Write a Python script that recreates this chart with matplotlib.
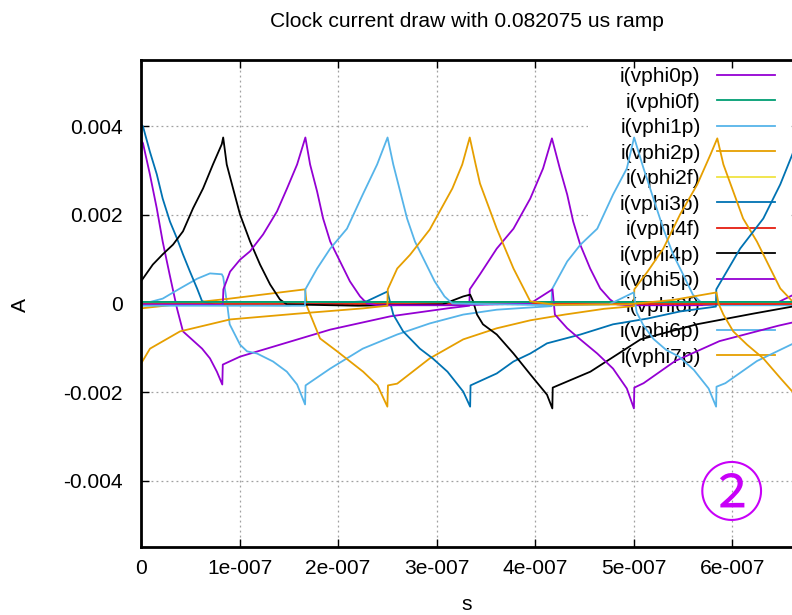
import numpy as np
import matplotlib
matplotlib.use("Agg")
import matplotlib.pyplot as plt
from matplotlib.patches import Rectangle

plt.rcParams['font.family'] = ['Liberation Sans', 'DejaVu Sans']

title = "Clock current draw with 0.082075 us ramp"
x_label = "s"
y_label = "A"
badge = "②"

series_names = ["i(vphi0p)", "i(vphi0f)", "i(vphi1p)", "i(vphi2p)", "i(vphi2f)", "i(vphi3p)",
                "i(vphi4f)", "i(vphi4p)", "i(vphi5p)", "i(vphi6f)", "i(vphi6p)", "i(vphi7p)"]
series_colors = ["#9400d3", "#009e73", "#56b4e9", "#e69f00", "#f0e442", "#0072b2",
                 "#e51e10", "#000000", "#9400d3", "#009e73", "#56b4e9", "#e69f00"]

# time in ns, current in mA
t_vphi0p = [0, 2, 9, 16, 22, 29, 36.5, 42.6, 62, 70, 77, 82.5, 83, 100.5, 141, 192, 253, 311, 333.2,
            333.6, 344, 361, 378, 395, 408, 417, 425, 432.5, 438.6, 445.7, 455.8, 466, 476, 483, 495,
            560, 642, 667]
i_vphi0p = [3.7, 3.62, 2.92, 2.15, 1.40, 0.66, -0.11, -0.63, -1.02, -1.24, -1.54, -1.83, -1.38, -1.2,
            -0.93, -0.59, -0.29, -0.11, -0.05, 0.32, 0.66, 1.24, 1.69, 2.37, 3.05, 3.73, 3.05, 2.46,
            1.85, 1.33, 0.79, 0.34, 0.09, -0.02, -0.04, -0.04, -0.02, 0.25]

t_vphi0f = [0, 667]
i_vphi0f = [0.03, 0.03]

t_vphi1p = [0, 22, 39.6, 57, 70, 82, 83.4, 88, 90, 100.5, 107.6, 117.8, 134, 148, 158.4, 166.5, 167,
            192, 225, 260, 293, 327, 361, 395, 416.6, 417, 432.5, 446, 463, 479, 493, 500.4, 510, 520,
            530, 540, 550, 560, 570.6, 590, 667]
i_vphi1p = [-0.02, 0.11, 0.34, 0.56, 0.68, 0.66, 0.6, -0.11, -0.47, -0.93, -1.08, -1.13, -1.31, -1.54,
            -1.83, -2.28, -1.85, -1.47, -1.02, -0.70, -0.45, -0.25, -0.14, -0.09, -0.06, 0.32, 0.95,
            1.33, 1.69, 2.46, 3.05, 3.75, 3.05, 2.37, 1.69, 1.11, 0.66, 0.20, -0.02, -0.04, -0.04]

t_vphi2p = [0, 90, 166.5, 168.5, 181.7, 199, 225.4, 240, 250, 250.6, 260, 293, 327, 361, 395, 430,
            470, 500.2, 500.6, 514, 530, 547, 564.5, 578, 584.8, 591, 601, 611, 625, 638.6, 648.7,
            661, 667]
i_vphi2p = [-0.11, 0.11, 0.32, -0.07, -0.79, -1.08, -1.54, -1.85, -2.33, -1.85, -1.81, -1.24, -0.81,
            -0.56, -0.38, -0.25, -0.12, -0.06, 0.32, 0.72, 1.24, 2.01, 2.69, 3.37, 3.73, 3.14, 2.53,
            1.92, 1.40, 0.79, 0.34, 0.05, 0.0]

t_vphi2f = [0, 667]
i_vphi2f = [0.01, 0.01]

t_vphi3p = [0, 2, 9, 16, 22, 29.4, 36.5, 42.6, 49.7, 56.9, 62, 75, 150, 229, 250, 256, 266, 283, 296,
            311, 327, 334, 334.4, 361, 378, 395, 412, 446, 479, 514, 547, 583.4, 583.8, 608, 631.5,
            648.7, 661, 667]
i_vphi3p = [4.05, 4.0, 3.43, 2.92, 2.37, 1.85, 1.47, 1.11, 0.72, 0.34, 0.05, -0.03, -0.04, 0.05, 0.27,
            -0.25, -0.63, -1.02, -1.24, -1.54, -1.99, -2.33, -1.85, -1.58, -1.31, -1.13, -0.90, -0.70,
            -0.47, -0.34, -0.18, -0.07, 0.32, 1.24, 1.92, 2.69, 3.37, 3.75]

t_vphi4f = [0, 667]
i_vphi4f = [0.0, 0.0]

t_vphi4p = [0, 12, 22, 32.5, 42.6, 52.8, 63, 73, 82, 83.4, 87, 93.4, 100.5, 110.7, 120.8, 131, 141,
            148, 220, 306, 327, 334, 337, 341, 347, 361, 378, 395, 412, 417.4, 417.8, 456, 507, 564,
            621, 661, 667]
i_vphi4p = [0.5, 0.88, 1.11, 1.33, 1.63, 2.15, 2.6, 3.14, 3.6, 3.75, 3.14, 2.6, 2.01, 1.40, 0.88, 0.43,
            0.09, -0.02, -0.05, -0.02, 0.16, 0.2, 0.05, -0.25, -0.47, -0.70, -1.13, -1.6, -2.06,
            -2.37, -1.9, -1.54, -0.81, -0.47, -0.23, -0.07, -0.05]

t_vphi5p = [0, 83.0, 83.6, 90.4, 100.5, 110.7, 123.9, 138, 148.2, 158.4, 166.8, 171.6, 178.7, 184.8,
            192, 202, 212, 222.3, 229.4, 240, 320, 395, 417.6, 420, 432.5, 445.7, 463, 479, 493, 500.2,
            500.6, 510, 542, 587, 647, 667]
i_vphi5p = [-0.02, -0.03, 0.32, 0.72, 0.99, 1.18, 1.56, 2.08, 2.6, 3.14, 3.75, 3.14, 2.53, 1.92, 1.40,
            0.95, 0.5, 0.16, 0.0, -0.04, -0.04, 0.0, 0.32, -0.25, -0.56, -0.81, -1.13, -1.47, -1.92,
            -2.37, -1.9, -1.8, -1.3, -0.85, -0.5, -0.4]

t_vphi6f = [0, 667]
i_vphi6f = [0.03, 0.03]

t_vphi6p = [0, 166.4, 166.8, 178.7, 192, 209, 225, 239.6, 250.2, 256, 263, 270, 278, 288, 298, 308,
            316, 420, 475, 500, 503, 510, 520, 533, 546, 561, 576, 583.6, 584, 593, 625, 667]
i_vphi6p = [-0.05, -0.05, 0.32, 0.79, 1.24, 1.69, 2.46, 3.14, 3.75, 3.14, 2.53, 1.92, 1.40, 0.95, 0.5,
            0.16, 0.0, -0.04, -0.02, 0.25, -0.2, -0.5, -0.8, -1.05, -1.2, -1.5, -1.92, -2.33, -1.88,
            -1.8, -1.3, -0.85]

t_vphi7p = [0, 9.1, 39.6, 90.4, 158.4, 225.4, 250, 250.4, 260, 273, 293, 316, 326, 333.6, 339.6, 344,
            361, 378, 395, 420, 493, 540, 584, 586, 591, 601, 615, 631.5, 649, 661, 667]
i_vphi7p = [-1.36, -1.02, -0.63, -0.36, -0.23, -0.11, -0.05, 0.32, 0.79, 1.1, 1.67, 2.6, 3.14, 3.75,
            3.14, 2.71, 1.69, 0.79, 0.05, -0.03, -0.02, 0.08, 0.25, 0.0, -0.25, -0.63, -0.93, -1.24,
            -1.69, -1.99, -2.15]

series_t = [t_vphi0p, t_vphi0f, t_vphi1p, t_vphi2p, t_vphi2f, t_vphi3p,
            t_vphi4f, t_vphi4p, t_vphi5p, t_vphi6f, t_vphi6p, t_vphi7p]
series_i = [i_vphi0p, i_vphi0f, i_vphi1p, i_vphi2p, i_vphi2f, i_vphi3p,
            i_vphi4f, i_vphi4p, i_vphi5p, i_vphi6f, i_vphi6p, i_vphi7p]

x_ticks = [0, 1e-7, 2e-7, 3e-7, 4e-7, 5e-7, 6e-7]
x_tick_labels = ["0", "1e-007", "2e-007", "3e-007", "4e-007", "5e-007", "6e-007"]
y_ticks = [-0.004, -0.002, 0.0, 0.002, 0.004]
y_tick_labels = ["-0.004", "-0.002", "0", "0.002", "0.004"]
x_range = (0, 6.667e-7)
y_range = (-0.0055, 0.0055)

W, H = 792, 615
fs = 15.1
fig = plt.figure(figsize=(W / 100, H / 100), dpi=100)
ax = fig.add_axes([141 / W, (H - 547) / H, 657 / W, 487 / H])

for name, t, i, c in zip(series_names, series_t, series_i, series_colors):
    ax.plot(np.array(t) * 1e-9, np.array(i) * 1e-3, color=c, lw=1.3, label=name, zorder=2)

ax.set_xlim(*x_range)
ax.set_ylim(*y_range)
ax.set_xticks(x_ticks)
ax.set_xticklabels(x_tick_labels)
ax.set_yticks(y_ticks)
ax.set_yticklabels(y_tick_labels)
ax.tick_params(direction='in', length=6, width=1, top=True, right=False, labelsize=fs)
ax.tick_params(axis='y', pad=13)
ax.tick_params(axis='x', pad=9)
ax.set_axisbelow(True)
ax.grid(True, color='#a0a0a0', linestyle=(0, (1.5, 2.5)), lw=0.9)
for s in ax.spines.values():
    s.set_linewidth(2.0)

# key area hides the grid
ax.add_patch(Rectangle((0.680, 0.3634), 0.988 - 0.680, 0.9815 - 0.3634, transform=ax.transAxes,
                       facecolor='white', edgecolor='none', zorder=1))

leg = ax.legend(loc='upper right', bbox_to_anchor=(775 / W, 1 - 67 / H), bbox_transform=fig.transFigure,
                frameon=False, markerfirst=False, handlelength=2.75, handletextpad=0.8,
                labelspacing=0.31, borderpad=0, borderaxespad=0, fontsize=fs)
leg.set_zorder(1.5)

fig.text(467 / W, 1 - 27 / H, title, ha='center', va='baseline', fontsize=fs)
fig.text(467 / W, 1 - 610 / H, x_label, ha='center', va='baseline', fontsize=fs)
fig.text(20 / W, 1 - 305 / H, y_label, ha='center', va='center', rotation=90, fontsize=fs)
fig.text(731 / W, 1 - 498 / H, badge, ha='center', va='center', fontsize=47, color='#c800f8',
         family=['Noto Sans CJK JP', 'DejaVu Sans'])

fig.savefig("out.png", dpi=100)
